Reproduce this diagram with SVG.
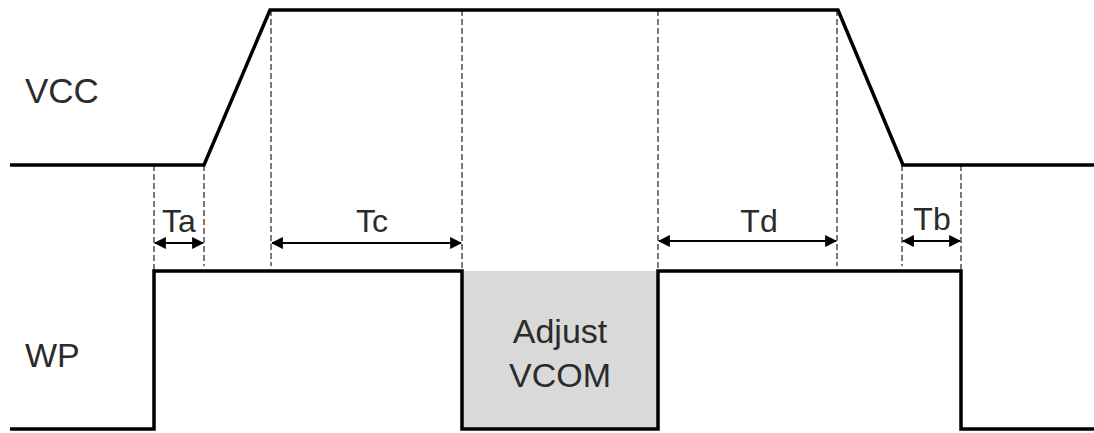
<svg xmlns="http://www.w3.org/2000/svg" width="1094" height="433" viewBox="0 0 1094 433">
<style>
.sig{fill:none;stroke:#000;stroke-width:3.5;stroke-linejoin:miter}
.dash{fill:none;stroke:#333;stroke-width:1.3;stroke-dasharray:6,3}
.arr{fill:none;stroke:#000;stroke-width:2.2;marker-start:url(#ah);marker-end:url(#ah)}
.lbl{font-family:"Liberation Sans",Arial,sans-serif;fill:#2b2b2b}
</style>
<defs>
<marker id="ah" viewBox="0 0 10 10" refX="9" refY="5" markerWidth="5.5" markerHeight="5.5" orient="auto-start-reverse" markerUnits="strokeWidth">
<path d="M0,0 L10,5 L0,10 z" fill="#000"/>
</marker>
</defs>
<rect width="1094" height="433" fill="#fff"/>
<g id="adjust-vcom">
<rect x="462" y="271" width="196" height="158" fill="#d9d9d9"/>
<text class="lbl" x="560" y="343" font-size="34" text-anchor="middle">Adjust</text>
<text class="lbl" x="560" y="387" font-size="34" text-anchor="middle">VCOM</text>
</g>
<g id="guides">
<line class="dash" x1="154" y1="165" x2="154" y2="270"/>
<line class="dash" x1="204" y1="165" x2="204" y2="266"/>
<line class="dash" x1="271" y1="10" x2="271" y2="266"/>
<line class="dash" x1="462" y1="10" x2="462" y2="271"/>
<line class="dash" x1="658" y1="10" x2="658" y2="271"/>
<line class="dash" x1="837" y1="10" x2="837" y2="266"/>
<line class="dash" x1="902" y1="165" x2="902" y2="266"/>
<line class="dash" x1="961" y1="165" x2="961" y2="271"/>
</g>
<g id="vcc">
<text class="lbl" x="25" y="103" font-size="35">VCC</text>
<polyline class="sig" points="10,165 204,165 270,10 838,10 903,165 1094,165"/>
</g>
<g id="wp">
<text class="lbl" x="25" y="367" font-size="34">WP</text>
<polyline class="sig" points="10,429 154,429 154,271 462,271 462,429 658,429 658,271 961,271 961,429 1094,429"/>
</g>
<g id="connectors">
<line class="arr" x1="155" y1="243" x2="203" y2="243"/>
<line class="arr" x1="272" y1="243" x2="461" y2="243"/>
<line class="arr" x1="659" y1="241" x2="836" y2="241"/>
<line class="arr" x1="903" y1="241" x2="960" y2="241"/>
</g>
<g id="labels">
<text class="lbl" x="179" y="232" font-size="32" text-anchor="middle">Ta</text>
<text class="lbl" x="372" y="232" font-size="32" text-anchor="middle">Tc</text>
<text class="lbl" x="759" y="232" font-size="32" text-anchor="middle">Td</text>
<text class="lbl" x="932" y="230" font-size="32" text-anchor="middle">Tb</text>
</g>
</svg>
